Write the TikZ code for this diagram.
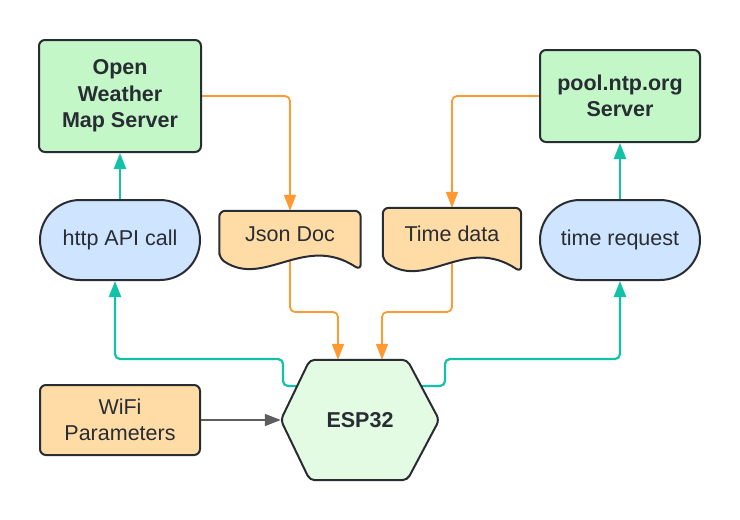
\documentclass[tikz,border=0pt]{standalone}
\usepackage{fontspec}
\setmainfont{Liberation Sans}
\usetikzlibrary{arrows.meta,backgrounds}

\definecolor{inkdark}{HTML}{282C33}
\definecolor{servergreen}{HTML}{C3F7C8}
\definecolor{chipgreen}{HTML}{E3FAE3}
\definecolor{callblue}{HTML}{CFE4FF}
\definecolor{paperorange}{HTML}{FFDCA5}
\definecolor{tealink}{HTML}{12C2A6}
\definecolor{orangeink}{HTML}{FF9A33}
\definecolor{grayink}{HTML}{5E5E5E}

\begin{document}
\begin{tikzpicture}[x=1pt,y=-1pt,
  every node/.style={text=inkdark,align=center,inner sep=0pt,
    font=\fontsize{21.5}{26.5}\selectfont},
  serverbox/.style={draw=inkdark,line width=2pt,fill=servergreen,rounded corners=6pt,
    font=\bfseries\fontsize{21.5}{26.5}\selectfont},
  callbox/.style={draw=inkdark,line width=2pt,fill=callblue,rounded corners=40pt,
    minimum width=160pt,minimum height=80pt},
  paramsbox/.style={draw=inkdark,line width=2pt,fill=paperorange,rounded corners=6pt,
    minimum width=160pt,minimum height=70pt},
  docshape/.style={draw=inkdark,line width=2pt,fill=paperorange,rounded corners=6pt},
  chipshape/.style={draw=inkdark,line width=2pt,fill=chipgreen,rounded corners=5pt},
  tealline/.style={draw=tealink,line width=2.2pt,rounded corners=5pt,
    -{Triangle[length=16pt,width=12pt]}},
  orangeline/.style={draw=orangeink,line width=1.8pt,rounded corners=5pt,
    -{Triangle[length=16pt,width=12pt]}},
  grayline/.style={draw=grayink,line width=1.6pt,
    -{Triangle[length=16pt,width=12pt]}}]
  \useasboundingbox (0,0) rectangle (740,520);

  % servers
  \node[serverbox,minimum width=162pt,minimum height=112pt] (owm) at (120,96)
    {Open\\Weather\\Map Server};
  \node[serverbox,minimum width=160pt,minimum height=92pt] (ntp) at (620,96)
    {pool.ntp.org\\Server};

  % requests
  \node[callbox] (http) at (120,240) {http API call};
  \node[callbox] (treq) at (620,240) {time request};

  % documents (outline drawn below)
  \node[minimum width=141pt,minimum height=47pt] (json) at (290,234.5) {Json Doc};
  \node[minimum width=138pt,minimum height=52pt] (tdata) at (452,234) {Time data};

  \node[paramsbox] (wifi) at (120,420) {WiFi\\Parameters};
  \node[minimum width=158pt,minimum height=120pt,font=\bfseries\fontsize{21.5}{26.5}\selectfont]
    (esp) at (360,420) {ESP32};

  \begin{scope}[on background layer]
    \draw[tealline] (http.north) -- (owm.south);
    \draw[tealline] (treq.north) -- (ntp.south);
    \draw[tealline] ([yshift=34pt]esp.center) -- (283,386) |- (115,359)
      -- ([xshift=-5pt]http.south);
    \draw[tealline] ([yshift=34pt]esp.center) -- (445,386) |- (620,359)
      -- (treq.south);

    \draw[orangeline] (owm.east) -| (json.north);
    \draw[orangeline] (ntp.west) -| (tdata.north);
    \draw[orangeline] (json.south) -- (290,312) -| ([xshift=-22pt]esp.north);
    \draw[orangeline] (tdata.south) -- (452,312) -| ([xshift=22pt]esp.north);

    \draw[grayline] (wifi.east) -- (esp.west);

    \filldraw[docshape] (json.south west) -- (json.north west) -- (json.north east)
      -- ([yshift=-12pt]json.south east)
      .. controls ([xshift=85pt,yshift=25pt]json.south west)
      and ([xshift=45pt,yshift=-30pt]json.south west) .. (json.south west) -- cycle;
    \filldraw[docshape] (tdata.south west) -- (tdata.north west) -- (tdata.north east)
      -- ([yshift=-12pt]tdata.south east)
      .. controls ([xshift=83pt,yshift=25pt]tdata.south west)
      and ([xshift=44pt,yshift=-30pt]tdata.south west) .. (tdata.south west) -- cycle;

    \filldraw[chipshape] (esp.west) -- ([xshift=29pt]esp.north west)
      -- ([xshift=-32pt]esp.north east) -- (esp.east)
      -- ([xshift=-32pt]esp.south east) -- ([xshift=29pt]esp.south west) -- cycle;
  \end{scope}
\end{tikzpicture}
\end{document}
